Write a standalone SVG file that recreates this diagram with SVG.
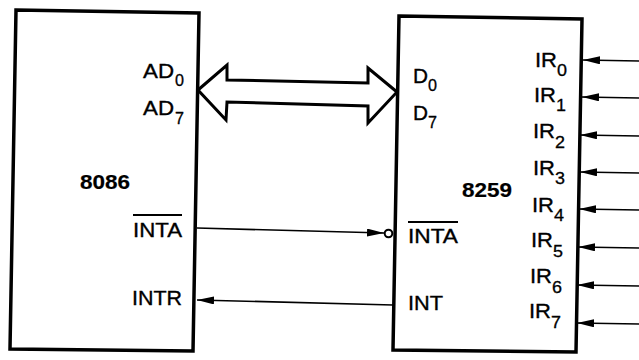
<svg xmlns="http://www.w3.org/2000/svg" width="639" height="360" viewBox="0 0 639 360">
<defs>
<style>
.box{fill:#fff;stroke:#000;stroke-width:3.5;stroke-linejoin:miter}
.t{font-family:"Liberation Sans",Arial,Helvetica,sans-serif;font-size:20px;fill:#000;stroke:#000;stroke-width:0.35}
.s{font-family:"Liberation Sans",Arial,Helvetica,sans-serif;font-size:17px;fill:#000;stroke:#000;stroke-width:0.3}
.b{font-weight:bold;stroke-width:0.2}
.ov{stroke:#000;stroke-width:1.8}
.w{fill:none;stroke:#000;stroke-width:1.7}
.bus{fill:#fff;stroke:#000;stroke-width:3;stroke-linejoin:miter}
</style>
<marker id="ah" viewBox="0 0 17 8" refX="17" refY="4" markerWidth="17" markerHeight="8" markerUnits="userSpaceOnUse" orient="auto">
<path d="M0,0 L17,4 L0,8 Z" fill="#000"/>
</marker>
</defs>

<g id="node-8086">
<polygon class="box" points="16,10 199,13 193,351 10,349"/>
<text class="t" x="143" y="78" textLength="31" lengthAdjust="spacingAndGlyphs">AD</text>
<text class="s" x="175" y="86" textLength="9" lengthAdjust="spacingAndGlyphs">0</text>
<text class="t" x="143" y="115" textLength="31" lengthAdjust="spacingAndGlyphs">AD</text>
<text class="s" x="175" y="124" textLength="9" lengthAdjust="spacingAndGlyphs">7</text>
<text class="t b" x="80" y="189" textLength="50" lengthAdjust="spacingAndGlyphs">8086</text>
<line class="ov" x1="133" y1="215" x2="182" y2="215"/>
<text class="t" x="133" y="237" textLength="49" lengthAdjust="spacingAndGlyphs">INTA</text>
<text class="t" x="132" y="305" textLength="50" lengthAdjust="spacingAndGlyphs">INTR</text>
</g>

<g id="node-8259">
<polygon class="box" points="399,16 582,19 576,352 393,350"/>
<text class="t" x="413" y="83" textLength="15" lengthAdjust="spacingAndGlyphs">D</text>
<text class="s" x="428" y="91" textLength="9" lengthAdjust="spacingAndGlyphs">0</text>
<text class="t" x="413" y="120" textLength="15" lengthAdjust="spacingAndGlyphs">D</text>
<text class="s" x="428" y="128" textLength="9" lengthAdjust="spacingAndGlyphs">7</text>
<text class="t b" x="462" y="197" textLength="50" lengthAdjust="spacingAndGlyphs">8259</text>
<line class="ov" x1="408" y1="222" x2="458" y2="222"/>
<text class="t" x="408" y="243" textLength="50" lengthAdjust="spacingAndGlyphs">INTA</text>
<text class="t" x="408" y="310" textLength="35" lengthAdjust="spacingAndGlyphs">INT</text>
<text class="t" x="535" y="67" textLength="22" lengthAdjust="spacingAndGlyphs">IR</text>
<text class="s" x="557" y="76" textLength="10" lengthAdjust="spacingAndGlyphs">0</text>
<text class="t" x="534" y="102" textLength="22" lengthAdjust="spacingAndGlyphs">IR</text>
<text class="s" x="556" y="111" textLength="10" lengthAdjust="spacingAndGlyphs">1</text>
<text class="t" x="533" y="138" textLength="22" lengthAdjust="spacingAndGlyphs">IR</text>
<text class="s" x="555" y="148" textLength="10" lengthAdjust="spacingAndGlyphs">2</text>
<text class="t" x="533" y="175" textLength="22" lengthAdjust="spacingAndGlyphs">IR</text>
<text class="s" x="555" y="184" textLength="10" lengthAdjust="spacingAndGlyphs">3</text>
<text class="t" x="532" y="212" textLength="22" lengthAdjust="spacingAndGlyphs">IR</text>
<text class="s" x="554" y="221" textLength="10" lengthAdjust="spacingAndGlyphs">4</text>
<text class="t" x="531" y="247" textLength="22" lengthAdjust="spacingAndGlyphs">IR</text>
<text class="s" x="553" y="257" textLength="10" lengthAdjust="spacingAndGlyphs">5</text>
<text class="t" x="530" y="283" textLength="22" lengthAdjust="spacingAndGlyphs">IR</text>
<text class="s" x="552" y="293" textLength="10" lengthAdjust="spacingAndGlyphs">6</text>
<text class="t" x="529" y="318" textLength="22" lengthAdjust="spacingAndGlyphs">IR</text>
<text class="s" x="551" y="328" textLength="10" lengthAdjust="spacingAndGlyphs">7</text>
</g>

<g id="connectors">
<polygon class="bus" points="198,90 227,65 227,80 368,83 368,68 397,92 368,123 368,106 227,102 226,120"/>
<line class="w" x1="197" y1="228" x2="384" y2="233" marker-end="url(#ah)"/>
<circle cx="388.5" cy="233.5" r="3.8" fill="#fff" stroke="#000" stroke-width="2"/>
<line class="w" x1="393" y1="305" x2="197" y2="300" marker-end="url(#ah)"/>
<line class="w" x1="639" y1="61" x2="583" y2="60" marker-end="url(#ah)"/>
<line class="w" x1="639" y1="98" x2="582" y2="97" marker-end="url(#ah)"/>
<line class="w" x1="639" y1="136" x2="580" y2="135" marker-end="url(#ah)"/>
<line class="w" x1="639" y1="173" x2="580" y2="172" marker-end="url(#ah)"/>
<line class="w" x1="639" y1="210" x2="579" y2="209" marker-end="url(#ah)"/>
<line class="w" x1="639" y1="248" x2="578" y2="247" marker-end="url(#ah)"/>
<line class="w" x1="639" y1="286" x2="577" y2="285" marker-end="url(#ah)"/>
<line class="w" x1="639" y1="324" x2="577" y2="323" marker-end="url(#ah)"/>
</g>
</svg>
